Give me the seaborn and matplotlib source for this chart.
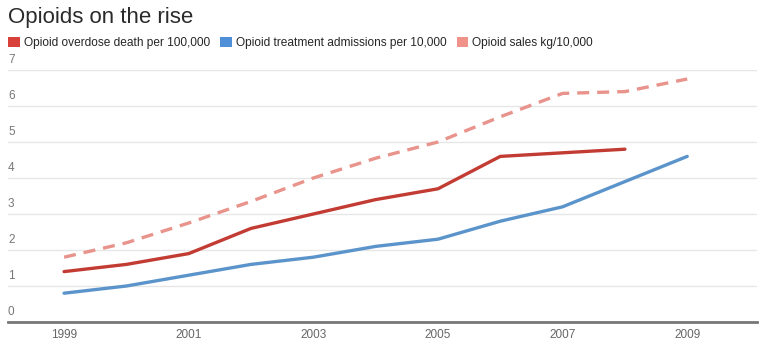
import matplotlib
matplotlib.use("Agg")
import matplotlib.pyplot as plt
import matplotlib.transforms as mtransforms
from matplotlib.patches import Patch
import seaborn as sns
import pandas as pd

years = list(range(1999, 2010))
death = [1.4, 1.6, 1.9, 2.6, 3.0, 3.4, 3.7, 4.6, 4.7, 4.8, None]
treatment = [0.8, 1.0, 1.3, 1.6, 1.8, 2.1, 2.3, 2.8, 3.2, 3.9, 4.6]
sales = [1.8, 2.2, 2.75, 3.35, 4.0, 4.55, 5.0, 5.7, 6.35, 6.4, 6.75]
series_names = ["Opioid overdose death per 100,000",
                "Opioid treatment admissions per 10,000",
                "Opioid sales kg/10,000"]
xticks = [1999, 2001, 2003, 2005, 2007, 2009]
yticks = [0, 1, 2, 3, 4, 5, 6, 7]

sns.set_theme(style="white")
plt.rcParams['font.family'] = ['Liberation Sans', 'DejaVu Sans']

line_colors = ["#c33c34", "#5b94cb", "#e8938b"]
legend_colors = ["#d8403a", "#4f8fd8", "#f0918a"]

fig = plt.figure(figsize=(7.74, 3.48), dpi=100)
ax = fig.add_axes([8/774, 1 - 322/348, (757 - 8)/774, (322 - 70)/348])

df = pd.DataFrame({"year": years, "death": death, "treatment": treatment, "sales": sales})
sns.lineplot(data=df, x="year", y="sales", ax=ax, color=line_colors[2], lw=2.4,
             linestyle=(0, (3.6, 2.4)))
sns.lineplot(data=df.dropna(subset=["death"]), x="year", y="death", ax=ax,
             color=line_colors[0], lw=2.4)
sns.lineplot(data=df, x="year", y="treatment", ax=ax, color=line_colors[1], lw=2.4)

ax.set_xlim(1998.1, 2010.12)
ax.set_ylim(0, 7)
ax.set_xticks(xticks)
ax.set_xticklabels([str(x) for x in xticks])
ax.set_yticks(yticks)
ax.set_yticklabels([str(y) for y in yticks])
ax.set_xlabel("")
ax.set_ylabel("")
ax.grid(axis="y", color="#e6e6e6", lw=1)
ax.grid(axis="x", visible=False)
for s in ["top", "right", "left"]:
    ax.spines[s].set_visible(False)
ax.spines["bottom"].set_color("#777777")
ax.spines["bottom"].set_linewidth(2)
ax.tick_params(axis="x", length=0, pad=5, labelsize=8.5, labelcolor="#666666")
ax.tick_params(axis="y", length=0, pad=0, labelsize=8.5, labelcolor="#777777")
offset = mtransforms.ScaledTranslation(0, 4/100, fig.dpi_scale_trans)
for lab in ax.get_yticklabels():
    lab.set_horizontalalignment("left")
    lab.set_verticalalignment("bottom")
    lab.set_transform(lab.get_transform() + offset)

fig.text(8/774, 1 - 17/348, "Opioids on the rise", fontsize=16, color="#2a2a2a",
         ha="left", va="center")

handles = [Patch(facecolor=c, edgecolor="none") for c in legend_colors]
fig.legend(handles, series_names, loc="center left", bbox_to_anchor=(6/774, 1 - 43/348),
           ncol=3, frameon=False, fontsize=8.6, handlelength=1.0, handleheight=1.0,
           handletextpad=0.3, columnspacing=0.85, borderaxespad=0, borderpad=0.2)

fig.savefig("out.png", dpi=100)
